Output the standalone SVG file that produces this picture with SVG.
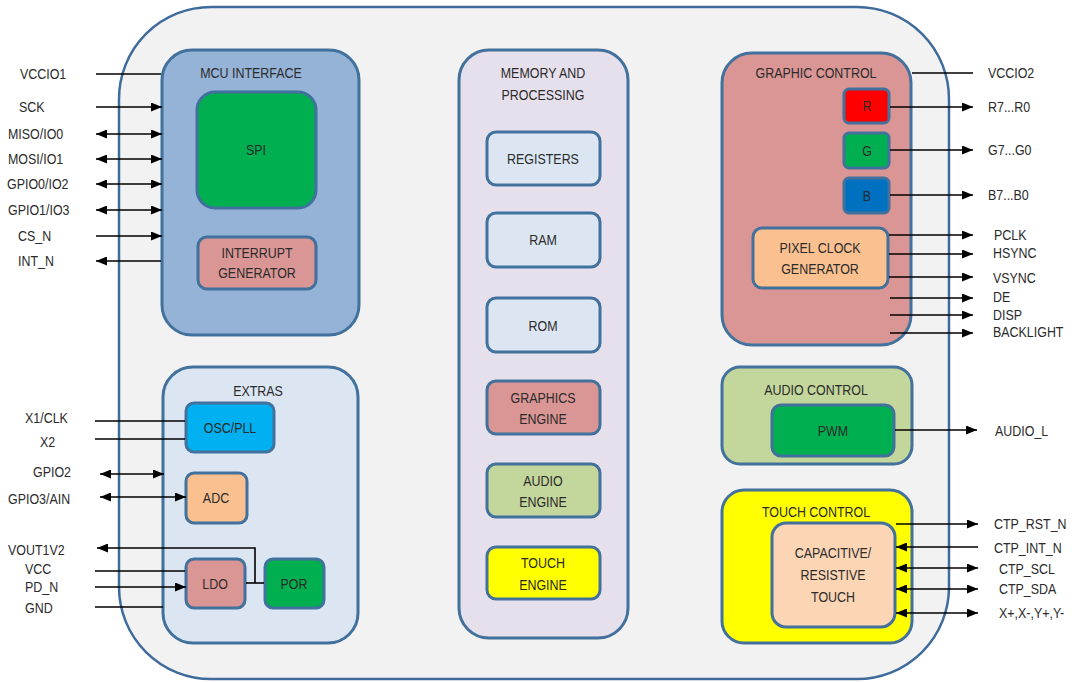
<svg xmlns="http://www.w3.org/2000/svg" width="1072" height="682" viewBox="0 0 1072 682">
<defs>
<style>
.t{font-family:"Liberation Sans",Arial,sans-serif;font-size:15px;fill:#2b2b2b;transform-box:fill-box;transform-origin:left center;transform:scaleX(0.83)}
.c{text-anchor:middle;transform-origin:center}
.blk{stroke:#41719c;stroke-width:3}
.w{stroke:#000;stroke-width:1.6;fill:none}
.a{marker-end:url(#ah)}
.b{marker-start:url(#ah);marker-end:url(#ah)}
.s{marker-start:url(#ah)}
</style>
<marker id="ah" markerUnits="userSpaceOnUse" markerWidth="11" markerHeight="9" refX="11" refY="4.5" orient="auto-start-reverse"><path d="M0,0 L11,4.5 L0,9 z" fill="#000"/></marker>
</defs>
<rect width="1072" height="682" fill="#fff"/>
<g id="chip"><rect x="119" y="7" width="830" height="672" rx="92" fill="#f2f2f2" stroke="#3f6b9c" stroke-width="2.5"/></g>

<g id="pin-labels">
<text class="t" x="20" y="79">VCCIO1</text>
<text class="t" x="19" y="112">SCK</text>
<text class="t" x="8" y="139">MISO/IO0</text>
<text class="t" x="8" y="164">MOSI/IO1</text>
<text class="t" x="7" y="189">GPIO0/IO2</text>
<text class="t" x="8" y="215">GPIO1/IO3</text>
<text class="t" x="18" y="241">CS_N</text>
<text class="t" x="18" y="266">INT_N</text>
<text class="t" x="25" y="423">X1/CLK</text>
<text class="t" x="40" y="447">X2</text>
<text class="t" x="33" y="477">GPIO2</text>
<text class="t" x="8" y="504">GPIO3/AIN</text>
<text class="t" x="8" y="555">VOUT1V2</text>
<text class="t" x="25" y="574">VCC</text>
<text class="t" x="25" y="592">PD_N</text>
<text class="t" x="25" y="613">GND</text>
<text class="t" x="988" y="78">VCCIO2</text>
<text class="t" x="988" y="112">R7...R0</text>
<text class="t" x="988" y="155">G7...G0</text>
<text class="t" x="988" y="200">B7...B0</text>
<text class="t" x="994" y="240">PCLK</text>
<text class="t" x="993" y="258">HSYNC</text>
<text class="t" x="993" y="283">VSYNC</text>
<text class="t" x="993" y="302">DE</text>
<text class="t" x="993" y="320">DISP</text>
<text class="t" x="993" y="337">BACKLIGHT</text>
<text class="t" x="995" y="436">AUDIO_L</text>
<text class="t" x="994" y="529">CTP_RST_N</text>
<text class="t" x="994" y="553">CTP_INT_N</text>
<text class="t" x="999" y="574">CTP_SCL</text>
<text class="t" x="999" y="594">CTP_SDA</text>
<text class="t" x="999" y="618">X+,X-,Y+,Y-</text>
</g>

<g id="mcu-interface">
<rect class="blk" x="162" y="50" width="197" height="285" rx="30" fill="#95b3d7"/>
<text class="t c" x="251" y="78">MCU INTERFACE</text>
</g>
<g id="spi"><rect class="blk" x="197" y="92" width="119" height="116" rx="18" fill="#00b050"/><text class="t c" x="256" y="155">SPI</text></g>
<g id="interrupt-generator"><rect class="blk" x="198" y="237" width="118" height="52" rx="9" fill="#da9694"/><text class="t c" x="257" y="258">INTERRUPT</text><text class="t c" x="257" y="278">GENERATOR</text></g>

<g id="extras">
<rect class="blk" x="163" y="367" width="195" height="276" rx="30" fill="#dce6f2"/>
<text class="t c" x="258" y="396">EXTRAS</text>
</g>
<g id="osc-pll"><rect class="blk" x="186" y="403" width="88" height="49" rx="8" fill="#00b0f0"/><text class="t c" x="230" y="433">OSC/PLL</text></g>
<g id="adc"><rect class="blk" x="186" y="473" width="61" height="50" rx="8" fill="#fac090"/><text class="t c" x="216" y="503">ADC</text></g>
<g id="ldo"><rect class="blk" x="186" y="559" width="59" height="49" rx="8" fill="#da9694"/><text class="t c" x="215" y="589">LDO</text></g>
<g id="por"><rect class="blk" x="265" y="559" width="59" height="49" rx="8" fill="#00b050"/><text class="t c" x="294" y="589">POR</text></g>

<g id="memory-processing">
<rect class="blk" x="459" y="50" width="169" height="588" rx="30" fill="#e6e0ec"/>
<text class="t c" x="543" y="78">MEMORY AND</text>
<text class="t c" x="543" y="100">PROCESSING</text>
</g>
<g id="registers"><rect class="blk" x="487" y="132" width="113" height="53" rx="9" fill="#dce6f2"/><text class="t c" x="543" y="164">REGISTERS</text></g>
<g id="ram"><rect class="blk" x="487" y="213" width="113" height="54" rx="9" fill="#dce6f2"/><text class="t c" x="543" y="245">RAM</text></g>
<g id="rom"><rect class="blk" x="487" y="298" width="113" height="54" rx="9" fill="#dce6f2"/><text class="t c" x="543" y="331">ROM</text></g>
<g id="graphics-engine"><rect class="blk" x="487" y="381" width="113" height="53" rx="9" fill="#da9694"/><text class="t c" x="543" y="403">GRAPHICS</text><text class="t c" x="543" y="424">ENGINE</text></g>
<g id="audio-engine"><rect class="blk" x="487" y="464" width="113" height="53" rx="9" fill="#c3d69b"/><text class="t c" x="543" y="486">AUDIO</text><text class="t c" x="543" y="507">ENGINE</text></g>
<g id="touch-engine"><rect class="blk" x="487" y="547" width="113" height="52" rx="9" fill="#ffff00"/><text class="t c" x="543" y="568">TOUCH</text><text class="t c" x="543" y="590">ENGINE</text></g>

<g id="graphic-control">
<rect class="blk" x="722" y="53" width="189" height="292" rx="30" fill="#da9694"/>
<text class="t c" x="816" y="78">GRAPHIC CONTROL</text>
</g>
<g id="r"><rect class="blk" x="844" y="89" width="45" height="34" rx="5" fill="#ff0000"/><text class="t c" x="867" y="111">R</text></g>
<g id="g"><rect class="blk" x="844" y="133" width="45" height="35" rx="5" fill="#00b050"/><text class="t c" x="867" y="156">G</text></g>
<g id="b"><rect class="blk" x="844" y="178" width="45" height="35" rx="5" fill="#0070c0"/><text class="t c" x="867" y="201">B</text></g>
<g id="pixel-clock-generator"><rect class="blk" x="753" y="228" width="135" height="60" rx="9" fill="#fac090"/><text class="t c" x="820" y="253">PIXEL CLOCK</text><text class="t c" x="820" y="274">GENERATOR</text></g>

<g id="audio-control">
<rect class="blk" x="722" y="367" width="190" height="97" rx="18" fill="#c3d69b"/>
<text class="t c" x="816" y="395">AUDIO CONTROL</text>
</g>
<g id="pwm"><rect class="blk" x="772" y="405" width="122" height="51" rx="9" fill="#00b050"/><text class="t c" x="833" y="436">PWM</text></g>

<g id="touch-control">
<rect class="blk" x="722" y="490" width="190" height="153" rx="22" fill="#ffff00"/>
<text class="t c" x="816" y="517">TOUCH CONTROL</text>
</g>
<g id="capacitive-resistive-touch"><rect class="blk" x="772" y="523" width="123" height="104" rx="14" fill="#fcd5b5"/><text class="t c" x="833" y="558">CAPACITIVE/</text><text class="t c" x="833" y="580">RESISTIVE</text><text class="t c" x="833" y="602">TOUCH</text></g>

<g id="connectors">
<line class="w" x1="96" y1="74" x2="161" y2="74"/>
<line class="w a" x1="96" y1="107" x2="162" y2="107"/>
<line class="w b" x1="96" y1="134" x2="162" y2="134"/>
<line class="w b" x1="96" y1="159" x2="162" y2="159"/>
<line class="w b" x1="96" y1="184" x2="162" y2="184"/>
<line class="w b" x1="96" y1="210" x2="162" y2="210"/>
<line class="w a" x1="96" y1="236" x2="162" y2="236"/>
<line class="w s" x1="96" y1="261" x2="161" y2="261"/>
<line class="w" x1="95" y1="421" x2="185" y2="421"/>
<line class="w" x1="95" y1="439" x2="185" y2="439"/>
<line class="w b" x1="100" y1="474" x2="164" y2="474"/>
<line class="w b" x1="100" y1="497" x2="186" y2="497"/>
<polyline class="w a" points="255,583 255,548 97,548"/>
<line class="w" x1="246" y1="583" x2="264" y2="583"/>
<line class="w" x1="95" y1="571" x2="185" y2="571"/>
<line class="w a" x1="95" y1="587" x2="186" y2="587"/>
<line class="w" x1="95" y1="607" x2="163" y2="607"/>
<line class="w" x1="912" y1="73" x2="973" y2="73"/>
<line class="w a" x1="890" y1="107" x2="973" y2="107"/>
<line class="w a" x1="890" y1="150" x2="973" y2="150"/>
<line class="w a" x1="890" y1="195" x2="973" y2="195"/>
<line class="w a" x1="889" y1="235" x2="973" y2="235"/>
<line class="w a" x1="889" y1="254" x2="973" y2="254"/>
<line class="w a" x1="889" y1="277" x2="973" y2="277"/>
<line class="w a" x1="890" y1="298" x2="973" y2="298"/>
<line class="w a" x1="890" y1="315" x2="973" y2="315"/>
<line class="w a" x1="890" y1="333" x2="973" y2="333"/>
<line class="w a" x1="895" y1="430" x2="977" y2="430"/>
<line class="w a" x1="896" y1="524" x2="978" y2="524"/>
<line class="w a" x1="978" y1="547" x2="896" y2="547"/>
<line class="w b" x1="896" y1="568" x2="978" y2="568"/>
<line class="w b" x1="896" y1="589" x2="978" y2="589"/>
<line class="w b" x1="896" y1="613" x2="978" y2="613"/>
</g>
</svg>
